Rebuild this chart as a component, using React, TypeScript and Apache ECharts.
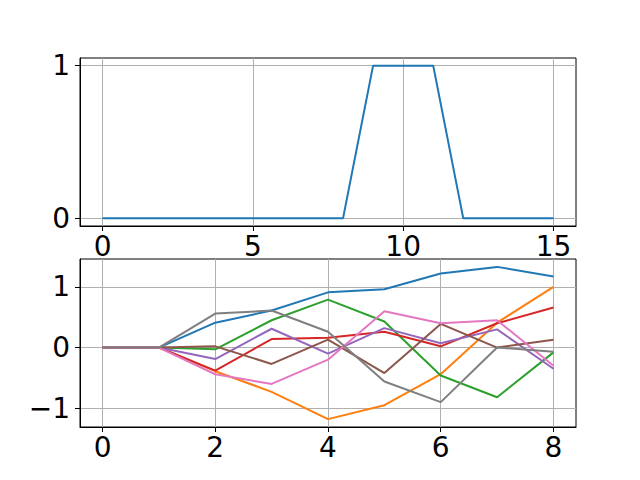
import React, { useEffect, useRef } from "react";
import * as echarts from "echarts";

const topX = [0, 1, 2, 3, 4, 5, 6, 7, 8, 9, 10, 11, 12, 13, 14, 15];
const topY = [0, 0, 0, 0, 0, 0, 0, 0, 0, 1, 1, 1, 0, 0, 0, 0];
const topXTicks = [0, 5, 10, 15];
const topYTicks = [0, 1];

const botX = [0, 1, 2, 3, 4, 5, 6, 7, 8];
const walk0 = [0, 0, 0.41, 0.61, 0.91, 0.96, 1.22, 1.33, 1.17];
const walk1 = [0, 0, -0.39, -0.73, -1.18, -0.95, -0.44, 0.41, 1.0];
const walk2 = [0, 0, -0.03, 0.45, 0.79, 0.43, -0.46, -0.82, -0.08];
const walk3 = [0, 0, -0.38, 0.14, 0.16, 0.26, 0.02, 0.4, 0.66];
const walk4 = [0, 0, -0.19, 0.31, -0.1, 0.32, 0.07, 0.3, -0.35];
const walk5 = [0, 0, 0.02, -0.27, 0.13, -0.42, 0.39, 0.0, 0.13];
const walk6 = [0, 0, -0.44, -0.6, -0.2, 0.6, 0.4, 0.45, -0.3];
const walk7 = [0, 0, 0.56, 0.61, 0.26, -0.56, -0.9, 0.0, -0.07];
const walks = [walk0, walk1, walk2, walk3, walk4, walk5, walk6, walk7];
const botXTicks = [0, 2, 4, 6, 8];
const botYTicks = [-1, 0, 1];

const colors = ["#1f77b4", "#ff7f0e", "#2ca02c", "#d62728", "#9467bd", "#8c564b", "#e377c2", "#7f7f7f"];

const FONT = "DejaVu Sans";

function axis(gridIndex: number, min: number, max: number, ticks: number[], isX: boolean) {
  return {
    type: "value",
    gridIndex,
    min,
    max,
    axisLine: { show: true, onZero: false, lineStyle: { color: "#000", width: 1 } },
    axisTick: { show: true, inside: false, length: 5, customValues: ticks, lineStyle: { color: "#000", width: 1 } },
    axisLabel: {
      show: true,
      customValues: ticks,
      fontSize: 28,
      fontFamily: FONT,
      color: "#000",
      margin: isX ? 6 : 10,
      formatter: (v: number) => (v < 0 ? "\u2212" + Math.abs(v) : String(v)),
    },
    splitLine: { show: true, lineStyle: { color: "#b0b0b0", width: 1 } },
  };
}

export default function App() {
  const ref = useRef<HTMLDivElement>(null);
  useEffect(() => {
    if (!ref.current) return;
    const chart = echarts.init(ref.current, null, { renderer: "svg" });
    const series: any[] = [
      {
        type: "line",
        xAxisIndex: 0,
        yAxisIndex: 0,
        data: topX.map((x, i) => [x, topY[i]]),
        showSymbol: false,
        lineStyle: { color: colors[0], width: 2 },
        itemStyle: { color: colors[0] },
      },
    ];
    walks.forEach((w, k) => {
      series.push({
        type: "line",
        xAxisIndex: 1,
        yAxisIndex: 1,
        data: botX.map((x, i) => [x, w[i]]),
        showSymbol: false,
        lineStyle: { color: colors[k], width: 2 },
        itemStyle: { color: colors[k] },
      });
    });
    chart.setOption({
      animation: false,
      backgroundColor: "#fff",
      grid: [
        { left: 80, top: 58, width: 496, height: 168, show: true, borderColor: "#000", borderWidth: 1, backgroundColor: "transparent" },
        { left: 80, top: 259, width: 496, height: 168, show: true, borderColor: "#000", borderWidth: 1, backgroundColor: "transparent" },
      ],
      xAxis: [axis(0, -0.75, 15.75, topXTicks, true), axis(1, -0.4, 8.4, botXTicks, true)],
      yAxis: [axis(0, -0.05, 1.05, topYTicks, false), axis(1, -1.31, 1.46, botYTicks, false)],
      series,
    });
    return () => chart.dispose();
  }, []);
  return <div ref={ref} style={{ width: 640, height: 480, position: "absolute", left: 0, top: 0 }} />;
}
